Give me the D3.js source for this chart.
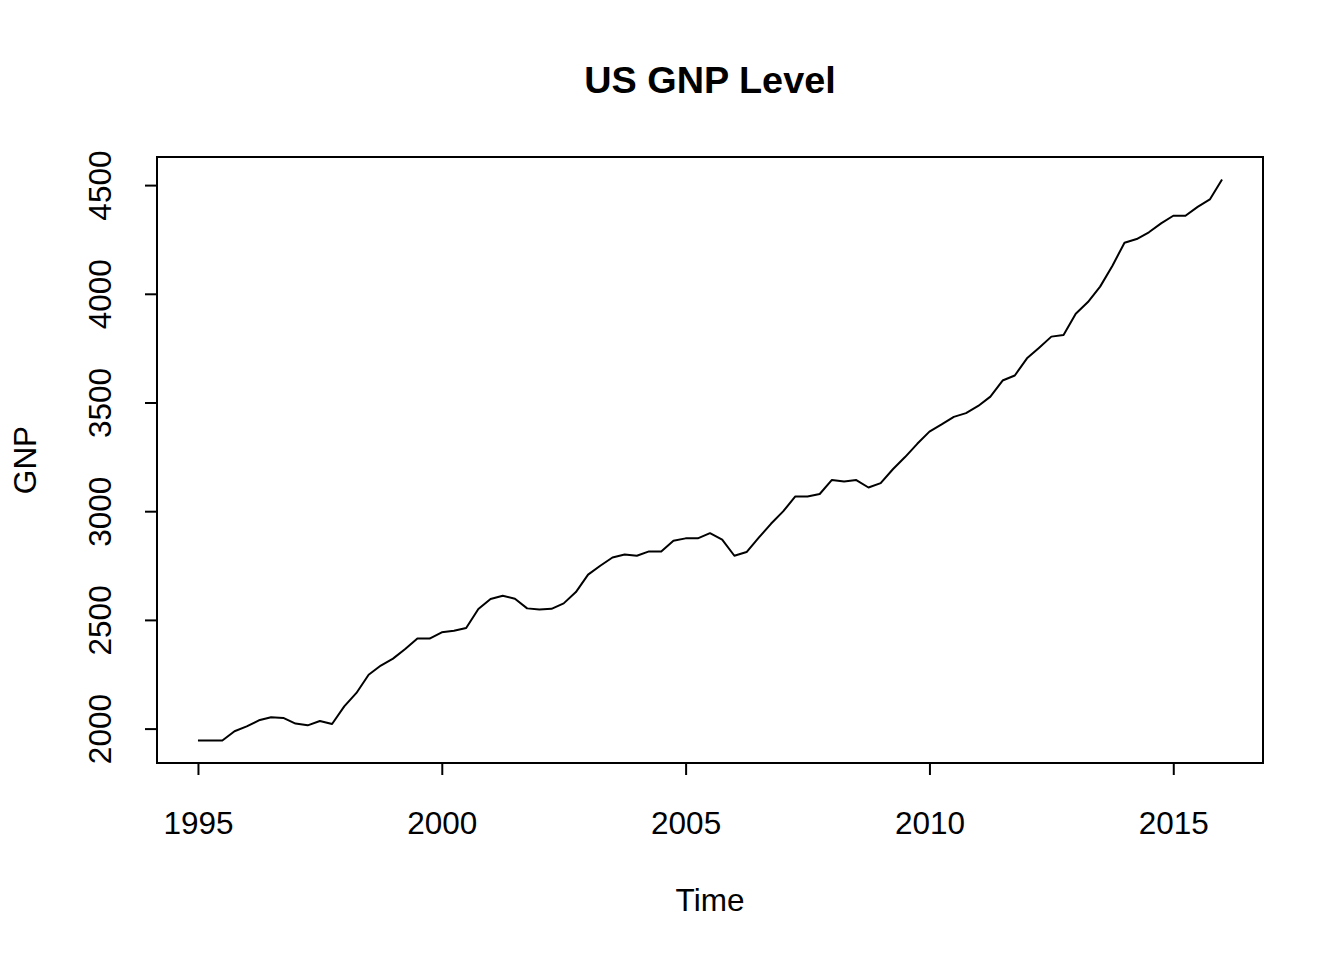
<!DOCTYPE html>
<html><head><meta charset="utf-8">
<script src="https://cdn.jsdelivr.net/npm/d3@7"></script>
<style>body{margin:0;background:#fff;}svg{display:block;font-family:"Liberation Sans",Arial,sans-serif;}</style>
</head><body>
<script>
const startYear = 1995;
const quarterStep = 0.25;
const gnp = [1945,1945,1945,1988,2010,2038,2052,2049,2023,2015,
2035,2021,2102,2164,2248,2290,2322,2366,2414,2414,
2443,2450,2463,2550,2596,2611,2597,2553,2548,2551,
2576,2628,2708,2749,2787,2801,2795,2815,2815,2864,
2875,2875,2899,2869,2795,2812,2878,2942,2999,3068,
3068,3079,3144,3137,3143,3109,3129,3193,3249,3310,
3366,3399,3434,3451,3484,3527,3601,3624,3703,3752,
3803,3811,3908,3962,4033,4128,4235,4252,4283,4324,
4359,4359,4400,4434,4526];
const xTicks = [1995,2000,2005,2010,2015];
const yTicks = [2000,2500,3000,3500,4000,4500];
const title = "US GNP Level", xLabel = "Time", yLabel = "GNP";

const data = gnp.map((v,i)=>({t:startYear+i*quarterStep, v}));
const W=1344,H=960, L=157,R=1263,T=157,B=763;
const FS=31.5;
const svg=d3.select("body").append("svg").attr("width",W).attr("height",H);
const tExt=d3.extent(data,d=>d.t), vExt=d3.extent(data,d=>d.v);
const tp=(tExt[1]-tExt[0])*0.04, vp=(vExt[1]-vExt[0])*0.04;
const x=d3.scaleLinear().domain([tExt[0]-tp,tExt[1]+tp]).range([L,R]);
const y=d3.scaleLinear().domain([vExt[0]-vp,vExt[1]+vp]).range([B,T]);

svg.append("rect").attr("x",L).attr("y",T).attr("width",R-L).attr("height",B-T)
  .attr("fill","none").attr("stroke","#000").attr("stroke-width",2);

svg.append("path").datum(data).attr("fill","none").attr("stroke","#000").attr("stroke-width",2)
  .attr("stroke-linejoin","round")
  .attr("d",d3.line().x(d=>x(d.t)).y(d=>y(d.v)));

const xa=svg.append("g").attr("transform",`translate(0,${B})`)
  .call(d3.axisBottom(x).tickValues(xTicks).tickFormat(d3.format("d")).tickSize(12).tickPadding(0));
xa.select(".domain").attr("d",`M${x(xTicks[0])},0H${x(xTicks[xTicks.length-1])}`).attr("stroke-width",2);
xa.selectAll(".tick line").attr("stroke-width",2);
xa.selectAll(".tick text").attr("y",71).attr("dy",0).attr("font-size",FS).attr("fill","#000");

const ya=svg.append("g").attr("transform",`translate(${L},0)`)
  .call(d3.axisLeft(y).tickValues(yTicks).tickFormat(d3.format("d")).tickSize(12));
ya.select(".domain").attr("d",`M0,${y(yTicks[0])}V${y(yTicks[yTicks.length-1])}`).attr("stroke-width",2);
ya.selectAll(".tick line").attr("stroke-width",2);
ya.selectAll(".tick text").attr("x",0).attr("dy",0).attr("text-anchor","middle")
  .attr("transform","translate(-46,0) rotate(-90)")
  .attr("font-size",FS).attr("fill","#000");

svg.append("text").attr("x",(L+R)/2).attr("y",93).attr("text-anchor","middle")
  .attr("font-weight","bold").attr("font-size",FS*1.2).text(title);
svg.append("text").attr("x",(L+R)/2).attr("y",911).attr("text-anchor","middle")
  .attr("font-size",FS).text(xLabel);
svg.append("text").attr("transform",`translate(36,${(T+B)/2}) rotate(-90)`).attr("text-anchor","middle")
  .attr("font-size",FS).text(yLabel);
</script>
</body></html>
